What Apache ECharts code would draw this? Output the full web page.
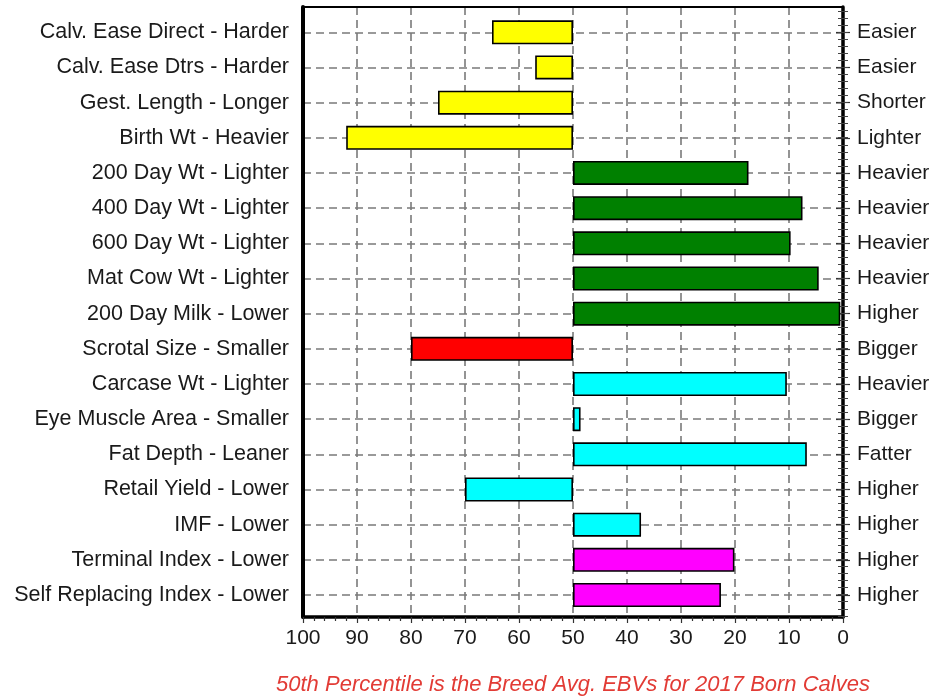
<!DOCTYPE html>
<html>
<head>
<meta charset="utf-8">
<script src="https://cdn.jsdelivr.net/npm/echarts@6/dist/echarts.min.js"></script>
<style>
html,body{margin:0;padding:0;background:#fff;}
#chart{width:934px;height:697px;}
</style>
</head>
<body>
<div id="chart"></div>
<script>
// ---- data ----
var categories = [
  'Calv. Ease Direct - Harder', 'Calv. Ease Dtrs - Harder', 'Gest. Length - Longer',
  'Birth Wt - Heavier', '200 Day Wt - Lighter', '400 Day Wt - Lighter',
  '600 Day Wt - Lighter', 'Mat Cow Wt - Lighter', '200 Day Milk - Lower',
  'Scrotal Size - Smaller', 'Carcase Wt - Lighter', 'Eye Muscle Area - Smaller',
  'Fat Depth - Leaner', 'Retail Yield - Lower', 'IMF - Lower',
  'Terminal Index - Lower', 'Self Replacing Index - Lower'
];
var rightLabels = [
  'Easier', 'Easier', 'Shorter', 'Lighter', 'Heavier', 'Heavier', 'Heavier',
  'Heavier', 'Higher', 'Bigger', 'Heavier', 'Bigger', 'Fatter', 'Higher',
  'Higher', 'Higher', 'Higher'
];
var percentiles = [65, 57, 75, 92, 17.5, 7.5, 9.7, 4.5, 0.5, 80, 10.4, 48.6, 6.7, 70, 37.4, 20.1, 22.6];
var groups = ['calving', 'calving', 'calving', 'calving', 'growth', 'growth', 'growth',
  'growth', 'growth', 'fertility', 'carcase', 'carcase', 'carcase', 'carcase',
  'carcase', 'index', 'index'];
var groupColors = { calving: '#FFFF00', growth: '#008000', fertility: '#FF0000', carcase: '#00FFFF', index: '#FF00FF' };
var xTicks = [0, 10, 20, 30, 40, 50, 60, 70, 80, 90, 100];
var average = 50;
var footnote = '50th Percentile is the Breed Avg. EBVs for 2017 Born Calves';

// ---- derived for stacking from the 50th percentile ----
var baseData = percentiles.map(function (v) { return Math.min(v, average); });
var barData = percentiles.map(function (v, i) {
  return { value: Math.abs(v - average), itemStyle: { color: groupColors[groups[i]] } };
});

var FONT = 'Liberation Sans, Arial, sans-serif';
var TXT = '#1a1a1a';
var FS = 21;
var chart = echarts.init(document.getElementById('chart'), null, { renderer: 'canvas' });

var option = {
  animation: false,
  backgroundColor: '#ffffff',
  title: {
    text: footnote,
    left: 568, top: 669, textAlign: 'center',
    textStyle: { color: '#E23B35', fontStyle: 'italic', fontWeight: 'normal', fontSize: 22, fontFamily: FONT }
  },
  grid: [
    { left: 303, right: 91, top: 7, bottom: 80 },          // frame + x axis
    { left: 303, right: 91, top: 32.3, bottom: 102 },      // bars (category centres)
    { left: 303, right: 91, top: 11.2, bottom: 81.2 }      // minor ticks on side axes
  ],
  xAxis: [
    {
      gridIndex: 0, type: 'value', min: 0, max: 100, interval: 10, inverse: true, position: 'bottom',
      axisLine: { show: true, onZero: false, lineStyle: { color: '#000', width: 3.5 } },
      axisTick: { show: true, inside: false, length: 6, lineStyle: { color: '#333', width: 1.2 } },
      minorTick: { show: true, splitNumber: 5, length: 4, lineStyle: { color: '#333', width: 1.2 } },
      axisLabel: { show: true, margin: 11, fontSize: FS, color: TXT, fontFamily: FONT,
        formatter: function (v) { return xTicks.indexOf(v) >= 0 ? String(v) : ''; } },
      splitLine: { show: true, lineStyle: { color: '#7a7a7a', width: 1.6, type: [8, 5] } }
    },
    {
      gridIndex: 0, type: 'value', min: 0, max: 100, inverse: true, position: 'top',
      axisLine: { show: true, onZero: false, lineStyle: { color: '#000', width: 2 } },
      axisTick: { show: false }, axisLabel: { show: false }, splitLine: { show: false }
    },
    { gridIndex: 1, type: 'value', min: 0, max: 100, inverse: true, show: false },
    { gridIndex: 2, type: 'value', min: 0, max: 100, inverse: true, show: false }
  ],
  yAxis: [
    {
      gridIndex: 0, type: 'value', min: 0, max: 1, position: 'left',
      axisLine: { show: true, onZero: false, lineStyle: { color: '#000', width: 4 } },
      axisTick: { show: false }, axisLabel: { show: false }, splitLine: { show: false }
    },
    {
      gridIndex: 0, type: 'value', min: 0, max: 1, position: 'right',
      axisLine: { show: true, onZero: false, lineStyle: { color: '#000', width: 3.5 } },
      axisTick: { show: false }, axisLabel: { show: false }, splitLine: { show: false }
    },
    {
      gridIndex: 1, type: 'category', data: categories, inverse: true, boundaryGap: false, position: 'left',
      axisLine: { show: false },
      axisTick: { show: true, length: 7, lineStyle: { color: '#333', width: 1.2 } },
      axisLabel: { margin: 14, fontSize: 21.5, color: TXT, fontFamily: FONT, interval: 0 },
      splitLine: { show: true, lineStyle: { color: '#7a7a7a', width: 1.6, type: [8, 5] } }
    },
    {
      gridIndex: 1, type: 'category', data: rightLabels, inverse: true, boundaryGap: false, position: 'right',
      axisLine: { show: false },
      axisTick: { show: true, length: 7, lineStyle: { color: '#333', width: 1.2 } },
      axisLabel: { margin: 14, fontSize: FS, color: TXT, fontFamily: FONT, interval: 0 },
      splitLine: { show: false }
    },
    {
      gridIndex: 2, type: 'value', min: 0, max: 86, interval: 1, inverse: true, position: 'left',
      axisLine: { show: false },
      axisTick: { show: true, length: 5, lineStyle: { color: '#444', width: 1 } },
      axisLabel: { show: false }, splitLine: { show: false }
    },
    {
      gridIndex: 2, type: 'value', min: 0, max: 86, interval: 1, inverse: true, position: 'right',
      axisLine: { show: false },
      axisTick: { show: true, length: 5, lineStyle: { color: '#444', width: 1 } },
      axisLabel: { show: false }, splitLine: { show: false }
    }
  ],
  series: [
    {
      name: 'base', type: 'bar', xAxisIndex: 2, yAxisIndex: 2, stack: 'p', barWidth: 24,
      data: baseData, silent: true, clip: false,
      itemStyle: { color: 'rgba(0,0,0,0)', borderWidth: 0 }
    },
    {
      name: 'percentile', type: 'bar', xAxisIndex: 2, yAxisIndex: 2, stack: 'p', barWidth: 24,
      data: barData, clip: false,
      itemStyle: { borderColor: '#000', borderWidth: 1.6 }
    }
  ]
};
chart.setOption(option);
</script>
</body>
</html>
